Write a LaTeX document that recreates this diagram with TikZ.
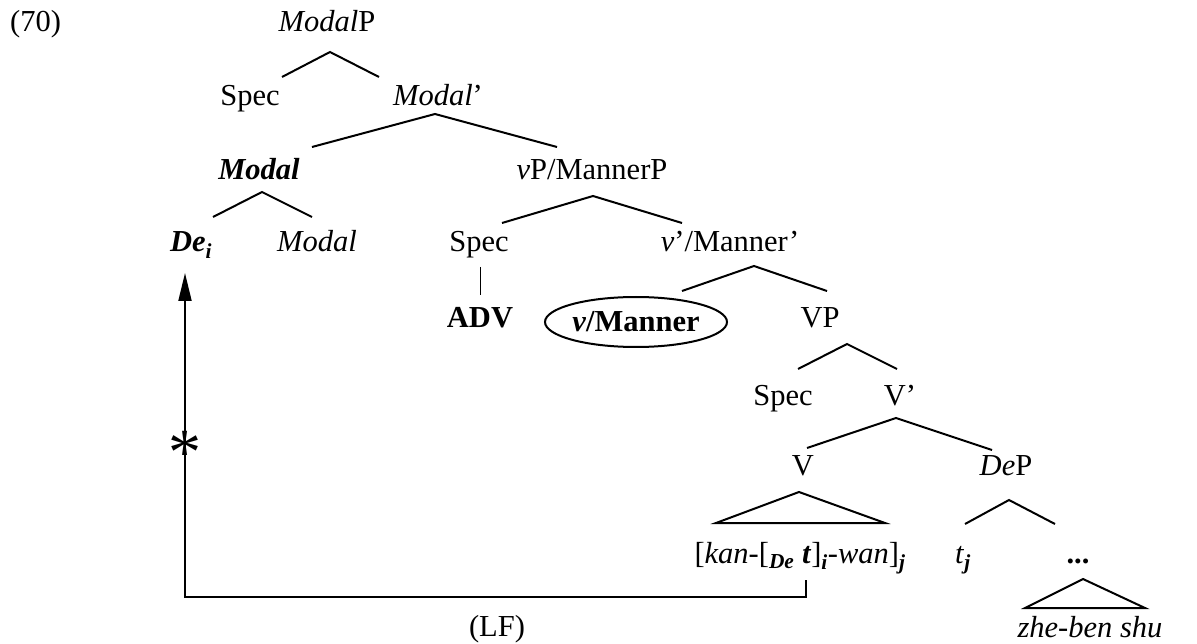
\documentclass[tikz,border=0pt]{standalone}
\usepackage{fontspec}
\setmainfont{Liberation Serif}
\usetikzlibrary{calc,arrows.meta,shapes.geometric}

\tikzset{
  lbl/.style={anchor=base, inner sep=0pt, font=\fontsize{30.5}{36}\selectfont},
  br/.style={line width=2pt},
  circled/.style={draw, ellipse, line width=2pt, inner sep=0pt,
    minimum width=182pt, minimum height=50pt, font=\fontsize{30.5}{36}\selectfont},
  mv/.style={line width=2pt, -{Triangle[length=28pt,width=13pt]}},
}
\newcommand{\bi}[1]{\textbf{\textit{#1}}}

\begin{document}
\begin{tikzpicture}[x=1pt, y=-1pt]
\useasboundingbox (0,0) rectangle (1197,644);
% labels
\node[lbl] (ex) at (35.5,32) {(70)};
\node[lbl] (mp) at (327,32) {\textit{Modal}P};
\node[lbl] (spec1) at (250,106) {Spec};
\node[lbl] (mbar) at (438,106) {\textit{Modal}'};
\node[lbl] (modal) at (259,180) {\bi{Modal}};
\node[lbl] (vp) at (592,180) {\textit{v}P/MannerP};
\node[lbl] (dei) at (191,252) {\bi{De}\textsubscript{\bi{i}}};
\node[lbl] (modal2) at (317,252) {\textit{Modal}};
\node[lbl] (spec2) at (479,252) {Spec};
\node[lbl] (vbar) at (730,252) {\textit{v}'/Manner'};
\node[lbl] (adv) at (480,327) {\textbf{ADV}};
\node[circled] (vman) at (636,322) {\bi{v}\textbf{/Manner}};
\node[lbl] (vp2) at (820,327) {VP};
\node[lbl] (spec3) at (783,405) {Spec};
\node[lbl] (vbar2) at (900,405) {V'};
\node[lbl] (vv) at (803,475) {V};
\node[lbl] (dep) at (1006,475) {\textit{De}P};
\node[lbl] (kan) at (800,563) {[\textit{kan}-[\textsubscript{\bi{De}} \bi{t}]\textsubscript{\bi{i}}-\textit{wan}]\textsubscript{\bi{j}}};
\node[lbl] (tj) at (963,563) {\textit{t}\textsubscript{\bi{j}}};
\node[lbl] (dots) at (1078,563) {\textbf{...}};
\node[lbl] (zhe) at (1090,637) {\textit{zhe-ben shu}};
\node[lbl] (lf) at (497,636) {(LF)};
\node[lbl, font=\fontsize{66}{70}\selectfont] (star) at (185,474) {*};

% branches
\draw[br] ($(spec1.base)+(32,-29)$) -- ($(mp.base)+(3,20)$) -- ($(mbar.base)+(-59,-29)$);
\draw[br] ($(modal.base)+(53,-33)$) -- ($(mbar.base)+(-3,8)$) -- ($(vp.base)+(-35,-33)$);
\draw[br] ($(dei.base)+(22,-35)$) -- ($(modal.base)+(3,12)$) -- ($(modal2.base)+(-5,-35)$);
\draw[br] ($(spec2.base)+(23,-29)$) -- ($(vp.base)+(1,16)$) -- ($(vbar.base)+(-48,-29)$);
\draw[line width=1pt] ($(spec2.base)+(1,15)$) -- ($(adv.base)+(0,-32)$);
\draw[br] ($(vman.center)+(46,-31)$) -- ($(vbar.base)+(24,14)$) -- ($(vp2.base)+(7,-36)$);
\draw[br] ($(spec3.base)+(15,-36)$) -- ($(vp2.base)+(27,17)$) -- ($(vbar2.base)+(-3,-36)$);
\draw[br] ($(vv.base)+(4,-27)$) -- ($(vbar2.base)+(-4,13)$) -- ($(dep.base)+(-14,-25)$);
\draw[br] ($(vv.base)+(-4,17)$) -- ($(kan.base)+(85,-40)$) -- ($(kan.base)+(-84,-40)$) -- cycle;
\draw[br] ($(tj.base)+(2,-39)$) -- ($(dep.base)+(3,25)$) -- ($(dots.base)+(-23,-39)$);
\draw[br] ($(dots.base)+(5,16)$) -- ($(zhe.base)+(55,-29)$) -- ($(zhe.base)+(-65,-29)$) -- cycle;

% LF movement
\coordinate (tfoot) at ($(kan.base)+(6,17)$);
\draw[mv] (tfoot) -- ++(0,17) -| ($(dei.base)+(-6,21)$);
\end{tikzpicture}
\end{document}
